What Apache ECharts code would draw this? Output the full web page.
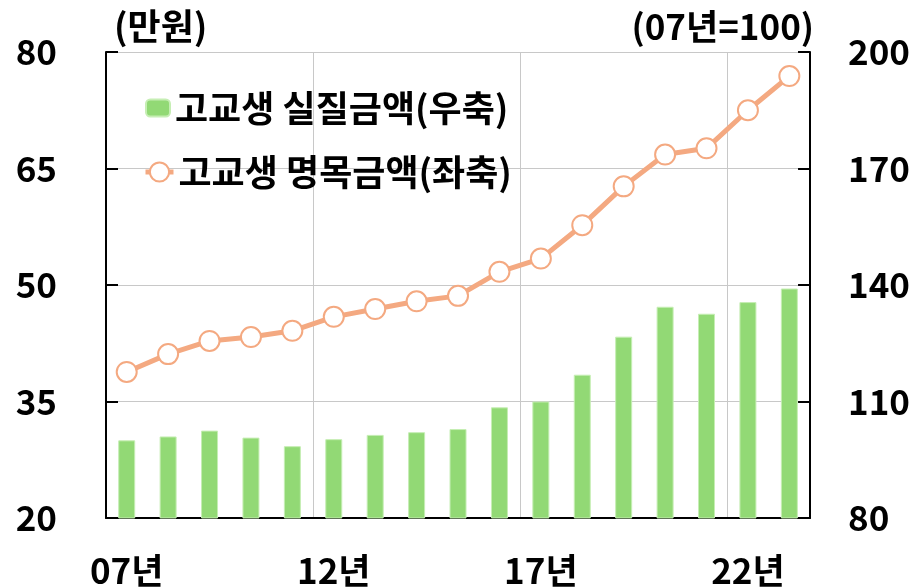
<!DOCTYPE html>
<html>
<head>
<meta charset="utf-8">
<script src="https://cdn.jsdelivr.net/npm/echarts@6/dist/echarts.min.js"></script>
<style>
  html, body { margin: 0; padding: 0; background: #fff; }
  #chart { width: 913px; height: 588px; }
</style>
</head>
<body>
<div id="chart"></div>
<script>
// years 07 ~ 23
const years = ['07년', '08년', '09년', '10년', '11년', '12년', '13년', '14년', '15년',
  '16년', '17년', '18년', '19년', '20년', '21년', '22년', '23년'];
// 고교생 실질금액 (07년=100, right axis)
const realAmount = [100, 101.0, 102.5, 100.7, 98.5, 100.3, 101.4, 102.1, 102.9,
  108.5, 110.0, 116.9, 126.7, 134.4, 132.6, 135.6, 139.1];
// 고교생 명목금액 (만원, left axis)
const nominalAmount = [38.8, 41.1, 42.8, 43.3, 44.1, 45.9, 46.9, 47.9, 48.6,
  51.7, 53.4, 57.7, 62.7, 66.8, 67.6, 72.5, 76.9];

const FONT = 'Noto Sans CJK KR';
const txt = { fontFamily: FONT, fontWeight: 'bold', fontSize: 35, color: '#000' };
const legendTxt = { ...txt, fontSize: 36 };

const chart = echarts.init(document.getElementById('chart'));
chart.setOption({
  animation: false,
  grid: { left: 106, right: 101, top: 52, bottom: 68, containLabel: false },
  legend: [
    {
      data: ['고교생 실질금액(우축)'],
      left: 145, top: 90,
      padding: 0,
      itemWidth: 24, itemHeight: 17,
      textStyle: legendTxt
    },
    {
      data: ['고교생 명목금액(좌축)'],
      left: 143, top: 154,
      padding: 0,
      itemWidth: 28, itemHeight: 24,
      lineStyle: { width: 5 },
      textStyle: legendTxt
    }
  ],
  xAxis: {
    type: 'category',
    data: years,
    boundaryGap: true,
    axisLine: { lineStyle: { color: '#000', width: 2 } },
    axisTick: { show: false },
    axisLabel: { interval: 4, margin: 35, ...txt },
    splitLine: { show: true, interval: 4, lineStyle: { color: '#c8c8c8', width: 1 } }
  },
  yAxis: [
    {
      type: 'value',
      min: 20, max: 80, interval: 15,
      name: '(만원)',
      nameLocation: 'end',
      nameGap: 8,
      nameTextStyle: { ...legendTxt, align: 'left', padding: [0, 0, 0, 8] },
      axisLine: { show: true, lineStyle: { color: '#000', width: 2 } },
      axisTick: { show: true, inside: true, length: 12, lineStyle: { color: '#000', width: 2 } },
      axisLabel: { margin: 49, ...txt },
      splitLine: { show: true, lineStyle: { color: '#c8c8c8', width: 1 } }
    },
    {
      type: 'value',
      min: 80, max: 200, interval: 30,
      name: '(07년=100)',
      nameLocation: 'end',
      nameGap: 8,
      nameTextStyle: { ...txt, align: 'right', padding: [0, -4, 0, 0] },
      position: 'right',
      axisLine: { show: true, lineStyle: { color: '#000', width: 2 } },
      axisTick: { show: true, inside: true, length: 12, lineStyle: { color: '#000', width: 2 } },
      axisLabel: { margin: 38, ...txt },
      splitLine: { show: false }
    }
  ],
  series: [
    {
      name: '고교생 실질금액(우축)',
      type: 'bar',
      yAxisIndex: 1,
      data: realAmount,
      barWidth: 17,
      itemStyle: { color: '#92d975', borderColor: '#c6eeb4', borderWidth: 1 }
    },
    {
      name: '고교생 명목금액(좌축)',
      type: 'line',
      yAxisIndex: 0,
      data: nominalAmount,
      symbol: 'circle',
      symbolSize: 20,
      z: 5,
      lineStyle: { color: '#f4a981', width: 5 },
      itemStyle: { color: '#fff', borderColor: '#f4a981', borderWidth: 2 }
    }
  ]
});
</script>
</body>
</html>
